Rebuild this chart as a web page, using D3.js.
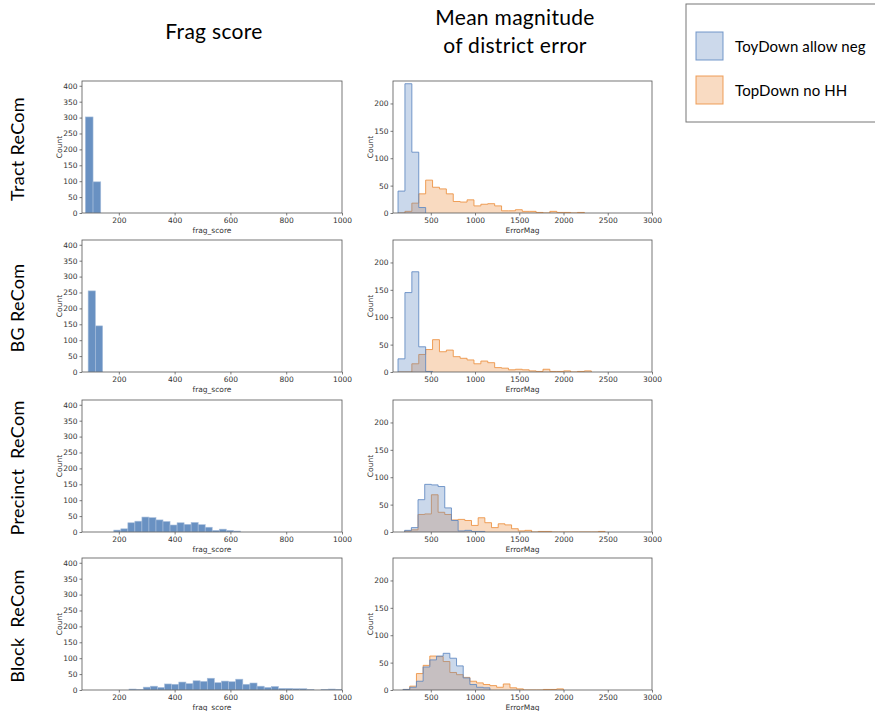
<!DOCTYPE html>
<meta charset="utf-8">
<script src="https://d3js.org/d3.v7.min.js"></script>
<style>
  body { margin: 0; background: #fff; }
  .tick text { font-family: "DejaVu Sans", sans-serif; font-size: 7.5px; fill: #333; }
  .tick line { stroke: #444; stroke-width: 0.7; }
  .domain { display: none; }
</style>
<div id="my_dataviz"></div>
<script>

// row labels and column titles
var rowLabels = ["Tract ReCom", "BG ReCom", "Precinct  ReCom", "Block  ReCom"];
var seriesNames = ["ToyDown allow neg", "TopDown no HH"];

// frag_score histograms (bin start, bin width, counts)
var fragStart = [80, 90, 182, 236.5];
var fragWidth = [27.6, 26, 25.2, 25.5];
var fragTract = [302, 98];
var fragBG = [255, 145];
var fragPrecinct = [6, 10, 29, 34, 47, 45, 38, 33, 22, 29, 24, 30, 23, 15, 5, 9, 5, 3];
var fragBlock = [3, 1, 9, 12, 8, 19, 18, 25, 20, 29, 27, 37, 23, 28, 26, 34, 18, 22, 12, 8, 11, 5, 5, 4, 4, 1, 0, 2, 3, 2];

// ErrorMag histograms, common bins per row
var errStart = [130, 130, 205, 187];
var errWidth = [78, 78, 75.5, 75.5];
var toyTract = [40, 236, 111, 10];
var topTract = [0, 3, 18, 35, 60, 47, 44, 35, 21, 20, 24, 13, 16, 17, 13, 4, 4, 6, 3, 3, 1, 0, 3, 1, 1, 0, 1];
var toyBG = [24, 145, 183, 46, 1];
var topBG = [0, 0, 15, 32, 41, 59, 37, 40, 28, 25, 22, 15, 20, 17, 8, 7, 4, 5, 4, 2, 1, 5, 1, 1, 2, 0, 1, 2];
var toyPrecinct = [3, 8, 59, 87, 86, 83, 44, 21, 2, 3, 1, 1];
var topPrecinct = [2, 4, 32, 33, 68, 36, 32, 22, 23, 21, 12, 26, 17, 8, 15, 13, 6, 2, 3, 0, 1, 1, 0, 0, 0, 0, 0, 0, 0, 1];
var toyBlock = [1, 5, 16, 42, 55, 62, 67, 58, 44, 22, 10, 5, 4];
var topBlock = [1, 7, 30, 45, 62, 61, 52, 32, 28, 23, 16, 13, 10, 8, 5, 11, 4, 2, 0, 0, 0, 1, 1, 2];

var fragCounts = [fragTract, fragBG, fragPrecinct, fragBlock];
var toyCounts = [toyTract, toyBG, toyPrecinct, toyBlock];
var topCounts = [topTract, topBG, topPrecinct, topBlock];

var fragTicks = [200, 400, 600, 800, 1000];
var errTicks = [500, 1000, 1500, 2000, 2500, 3000];
var fragYTicks = d3.range(0, 401, 50);
var errYTicks = [0, 50, 100, 150, 200];

var W = 875, H = 711;
var rowTop = [81, 240, 400, 558], rowH = 132;
var leftX = [82, 342], rightX = [393, 652];

var blue = "#5f88c2", orange = "#ec9040";

var svg = d3.select("#my_dataviz").append("svg")
  .attr("width", W).attr("height", H);

var titleFont = "Lato, 'Noto Sans', sans-serif";

function title(x, y, size, txt) {
  return svg.append("text").attr("x", x).attr("y", y).attr("text-anchor", "middle")
    .style("font-family", titleFont)
    .style("letter-spacing", "0.3px").style("font-size", size + "px").text(txt);
}

// column titles
title(214, 39, 21, "Frag score");
title(515, 25, 21, "Mean magnitude");
title(515, 53, 21, "of district error");

// legend
var leg = svg.append("g");
leg.append("rect").attr("x", 686).attr("y", 4).attr("width", 200).attr("height", 118)
  .attr("fill", "#fff").attr("stroke", "#777").attr("stroke-width", 1);
seriesNames.forEach(function(name, i) {
  var c = i == 0 ? blue : orange;
  leg.append("rect").attr("x", 696).attr("y", 32 + i * 44).attr("width", 27).attr("height", 28)
    .attr("fill", c).attr("fill-opacity", 0.32).attr("stroke", c).attr("stroke-opacity", 0.85);
  leg.append("text").attr("x", 735).attr("y", 52 + i * 44)
    .style("font-family", titleFont).style("letter-spacing", "0.1px")
    .style("font-size", "15px").text(name);
});

var defs = svg.append("defs");

function makeAxes(g, x, y, x0, x1, top, xt, yt, xlabel, id) {
  defs.append("clipPath").attr("id", id).append("rect")
    .attr("x", x0).attr("y", top).attr("width", x1 - x0).attr("height", rowH);
  g.append("g").attr("transform", "translate(0," + (top + rowH) + ")")
    .call(d3.axisBottom(x).tickValues(xt).tickSize(2.5).tickPadding(2).tickFormat(d3.format("d")));
  g.append("g").attr("transform", "translate(" + x0 + ",0)")
    .call(d3.axisLeft(y).tickValues(yt).tickSize(2.5).tickPadding(2).tickFormat(d3.format("d")));
  g.append("text").attr("x", (x0 + x1) / 2).attr("y", top + rowH + 20).attr("text-anchor", "middle")
    .style("font-family", "DejaVu Sans").style("font-size", "7.5px").attr("fill", "#333").text(xlabel);
  g.append("text").attr("transform", "translate(" + (x0 - 20) + "," + (top + rowH / 2) + ") rotate(-90)")
    .attr("text-anchor", "middle")
    .style("font-family", "DejaVu Sans").style("font-size", "7.5px").attr("fill", "#333").text("Count");
}

function frame(g, x0, x1, top) {
  g.append("rect").attr("x", x0).attr("y", top).attr("width", x1 - x0).attr("height", rowH)
    .attr("fill", "none").attr("stroke", "#555").attr("stroke-width", 0.8);
}

rowLabels.forEach(function(label, r) {
  var top = rowTop[r];

  // row label
  svg.append("text")
    .attr("transform", "translate(24," + (top + rowH / 2 + 2) + ") rotate(-90)")
    .attr("text-anchor", "middle").style("white-space", "pre")
    .style("font-family", titleFont).style("letter-spacing", "0.3px")
    .style("font-size", "18px").text(label);

  // left: frag score bars
  var x = d3.scaleLinear().domain([68, 1000]).range(leftX);
  var y = d3.scaleLinear().domain([0, 415]).range([top + rowH, top]);
  var g = svg.append("g");
  makeAxes(g, x, y, leftX[0], leftX[1], top, fragTicks, fragYTicks, "frag_score", "clipL" + r);
  var bins = fragCounts[r].map(function(c, i) {
    return { x0: fragStart[r] + i * fragWidth[r], x1: fragStart[r] + (i + 1) * fragWidth[r], c: c };
  });
  g.append("g").attr("clip-path", "url(#clipL" + r + ")")
    .selectAll("rect").data(bins).enter().append("rect")
    .attr("x", function(d) { return x(d.x0); })
    .attr("y", function(d) { return y(d.c); })
    .attr("width", function(d) { return x(d.x1) - x(d.x0); })
    .attr("height", function(d) { return y(0) - y(d.c); })
    .attr("fill", "#6991c2")
    .attr("stroke", "#a9bfdc").attr("stroke-width", 0.6);
  frame(g, leftX[0], leftX[1], top);

  // right: error magnitude step histograms
  var xr = d3.scaleLinear().domain([73, 3000]).range(rightX);
  var yr = d3.scaleLinear().domain([0, 241]).range([top + rowH, top]);
  var gr = svg.append("g");
  makeAxes(gr, xr, yr, rightX[0], rightX[1], top, errTicks, errYTicks, "ErrorMag", "clipR" + r);
  var plot = gr.append("g").attr("clip-path", "url(#clipR" + r + ")");

  [[topCounts[r], orange], [toyCounts[r], blue]].forEach(function(s) {
    var counts = s[0], col = s[1];
    var pts = counts.map(function(c, i) { return [errStart[r] + i * errWidth[r], c]; });
    pts.push([errStart[r] + counts.length * errWidth[r], counts[counts.length - 1]]);
    var area = d3.area().curve(d3.curveStepAfter)
      .x(function(d) { return xr(d[0]); }).y0(yr(0)).y1(function(d) { return yr(d[1]); });
    plot.append("path").attr("d", area(pts))
      .attr("fill", col).attr("fill-opacity", 0.33);
    var line = d3.line().curve(d3.curveStepAfter)
      .x(function(d) { return xr(d[0]); }).y(function(d) { return yr(d[1]); });
    // outline with drops to zero at both ends
    var path = "M" + xr(pts[0][0]) + "," + yr(0) + "L" + line(pts).slice(1) +
      "L" + xr(pts[pts.length - 1][0]) + "," + yr(0);
    plot.append("path").attr("d", path)
      .attr("fill", "none").attr("stroke", col).attr("stroke-opacity", 0.85).attr("stroke-width", 1);
  });
  frame(gr, rightX[0], rightX[1], top);
});

</script>
